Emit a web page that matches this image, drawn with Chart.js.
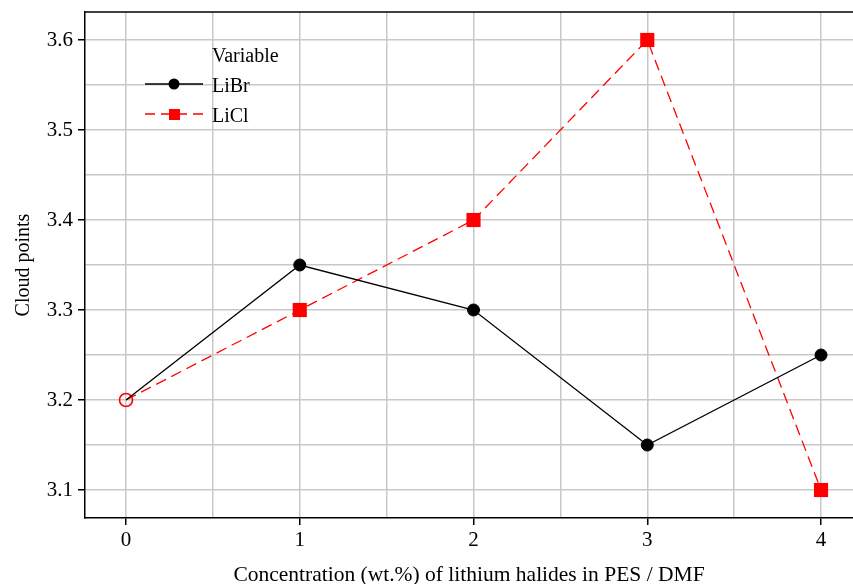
<!DOCTYPE html>
<html>
<head>
<meta charset="utf-8">
<script src="https://cdn.jsdelivr.net/npm/chart.js@4.4.0/dist/chart.umd.min.js"></script>
<style>
  html, body { margin: 0; padding: 0; background: #fff; overflow: hidden; }
  #wrap { position: relative; width: 853px; height: 584px; }
  canvas { display: block; }
</style>
</head>
<body>
<div id="wrap"><canvas id="cloudChart"></canvas></div>
<script>
// data
const concentrations = [0, 1, 2, 3, 4];
const libr = [3.2, 3.35, 3.3, 3.15, 3.25];
const licl = [3.2, 3.3, 3.4, 3.6, 3.1];
const seriesNames = ['LiBr', 'LiCl'];
const xGrid = [0, 0.5, 1, 1.5, 2, 2.5, 3, 3.5, 4];
const yGrid = [3.1, 3.15, 3.2, 3.25, 3.3, 3.35, 3.4, 3.45, 3.5, 3.55, 3.6];
const xLabels = ['0', '1', '2', '3', '4'];
const yLabels = ['3.1', '3.2', '3.3', '3.4', '3.5', '3.6'];

const FONT = "'Liberation Serif', 'Times New Roman', serif";

function isMajor(v, labels) {
    return labels.some(l => Math.abs(parseFloat(l) - v) < 1e-6);
}

// border on top + legend box
const framePlugin = {
    id: 'frame',
    afterDraw(chart) {
        const { ctx, chartArea } = chart;
        ctx.save();
        ctx.strokeStyle = '#000';
        ctx.lineWidth = 1.5;
        ctx.beginPath();
        ctx.moveTo(chartArea.left, chartArea.top);
        ctx.lineTo(chartArea.right, chartArea.top);
        ctx.stroke();

        // legend
        ctx.font = '20px ' + FONT;
        ctx.fillStyle = '#000';
        ctx.textBaseline = 'alphabetic';
        ctx.textAlign = 'left';
        ctx.fillText('Variable', 212, 62);

        // LiBr
        ctx.strokeStyle = '#000';
        ctx.lineWidth = 1.5;
        ctx.beginPath();
        ctx.moveTo(145, 84);
        ctx.lineTo(203, 84);
        ctx.stroke();
        ctx.beginPath();
        ctx.arc(174, 84, 5.5, 0, Math.PI * 2);
        ctx.fill();
        ctx.fillText(seriesNames[0], 212, 92);

        // LiCl
        ctx.strokeStyle = '#ff0000';
        ctx.setLineDash([10, 6]);
        ctx.beginPath();
        ctx.moveTo(145, 114);
        ctx.lineTo(203, 114);
        ctx.stroke();
        ctx.setLineDash([]);
        ctx.fillStyle = '#ff0000';
        ctx.fillRect(169, 109, 11, 11);
        ctx.fillStyle = '#000';
        ctx.fillText(seriesNames[1], 212, 122);
        ctx.restore();
    }
};

const ctx = document.getElementById('cloudChart').getContext('2d');
new Chart(ctx, {
    type: 'line',
    data: {
        datasets: [
            {
                label: seriesNames[0],
                data: concentrations.map((x, i) => ({ x: x, y: libr[i] })),
                borderColor: '#000',
                backgroundColor: '#000',
                borderWidth: 1.3,
                pointStyle: 'circle',
                pointRadius: [0, 6, 6, 6, 6],
                pointBorderWidth: 1,
                tension: 0
            },
            {
                label: seriesNames[1],
                data: concentrations.map((x, i) => ({ x: x, y: licl[i] })),
                borderColor: '#ff0000',
                backgroundColor: ['rgba(0,0,0,0)', '#ff0000', '#ff0000', '#ff0000', '#ff0000'],
                pointBorderColor: '#ff0000',
                borderWidth: 1.3,
                borderDash: [11, 6],
                pointStyle: ['circle', 'rect', 'rect', 'rect', 'rect'],
                pointRadius: [6.5, 10, 10, 10, 10],
                pointBorderWidth: [1.6, 0, 0, 0, 0],
                tension: 0
            }
        ]
    },
    options: {
        responsive: true,
        maintainAspectRatio: false,
        animation: false,
        events: [],
        layout: { autoPadding: false, padding: { top: 12, right: 0, left: 0, bottom: 0 } },
        plugins: {
            legend: { display: false },
            tooltip: { enabled: false }
        },
        scales: {
            x: {
                type: 'linear',
                min: -0.236,
                max: 4.184,
                afterBuildTicks: scale => { scale.ticks = xGrid.map(v => ({ value: v })); },
                afterFit: scale => {
                    scale.height = 66;
                    scale.paddingLeft = 0;
                    scale.paddingRight = 0;
                },
                ticks: {
                    autoSkip: false,
                    maxRotation: 0,
                    color: '#000',
                    padding: 3,
                    font: { family: FONT, size: 21 },
                    callback: v => isMajor(v, xLabels) ? String(v) : ''
                },
                grid: {
                    color: '#c8c8c8',
                    lineWidth: 1.5,
                    tickLength: 7,
                    tickColor: c => isMajor(c.tick.value, xLabels) ? '#000' : 'rgba(0,0,0,0)',
                    tickWidth: 1.5
                },
                border: { color: '#000', width: 1.5 },
                title: {
                    display: true,
                    text: 'Concentration (wt.%) of lithium halides in PES / DMF',
                    color: '#000',
                    font: { family: FONT, size: 21.5 },
                    padding: { top: 0, bottom: -4 }
                }
            },
            y: {
                min: 3.0689,
                max: 3.6311,
                afterBuildTicks: scale => { scale.ticks = yGrid.map(v => ({ value: v })); },
                afterFit: scale => {
                    scale.width = 85;
                    scale.paddingTop = 0;
                    scale.paddingBottom = 0;
                },
                ticks: {
                    autoSkip: false,
                    color: '#000',
                    padding: 5,
                    font: { family: FONT, size: 21 },
                    callback: v => isMajor(v, yLabels) ? v.toFixed(1) : ''
                },
                grid: {
                    color: '#c8c8c8',
                    lineWidth: 1.5,
                    tickLength: 7,
                    tickColor: c => isMajor(c.tick.value, yLabels) ? '#000' : 'rgba(0,0,0,0)',
                    tickWidth: 1.5
                },
                border: { color: '#000', width: 1.5 },
                title: {
                    display: true,
                    text: 'Cloud points',
                    color: '#000',
                    font: { family: FONT, size: 20 },
                    padding: { top: 12, bottom: 0 }
                }
            }
        }
    },
    plugins: [framePlugin]
});
</script>
</body>
</html>
